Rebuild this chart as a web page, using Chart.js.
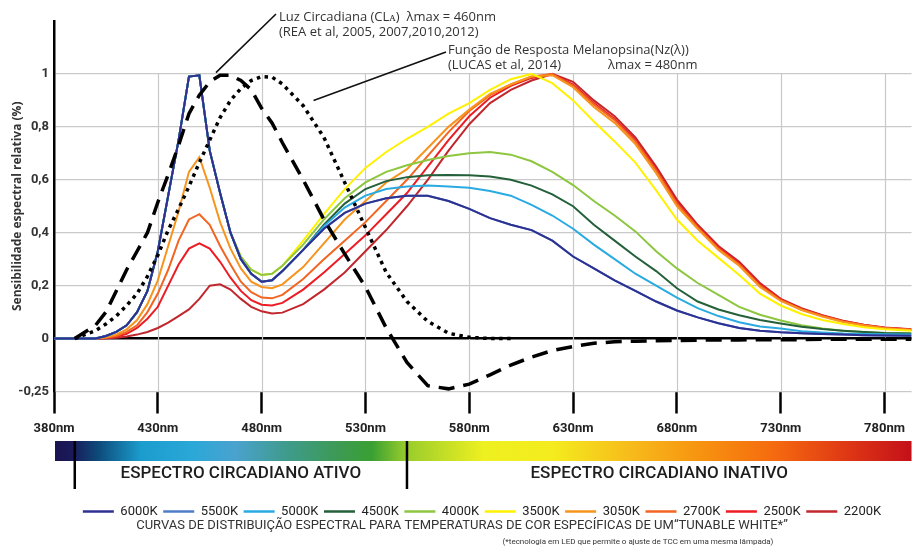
<!DOCTYPE html>
<html>
<head>
<meta charset="utf-8">
<script src="https://cdn.jsdelivr.net/npm/chart.js@4.4.0/dist/chart.umd.min.js"></script>
<style>
  html, body { margin: 0; padding: 0; background: #fff; }
  #wrap { width: 912px; height: 546px; }
</style>
</head>
<body>
<div id="wrap"><canvas id="grafico"></canvas></div>
<script>
// comprimentos de onda (nm)
const comprimentos = [380,390,400,405,410,415,420,425,430,435,440,445,450,455,460,465,470,475,480,485,490,
  500,510,520,530,540,550,560,570,580,590,600,610,620,630,640,650,660,670,680,690,700,710,720,730,740,750,760,770,780,793];

const k6000 = [0,0,0,0.01,0.025,0.05,0.10,0.18,0.33,0.54,0.75,0.99,0.995,0.71,0.55,0.40,0.30,0.245,0.215,0.22,0.255,
  0.335,0.415,0.475,0.51,0.53,0.54,0.54,0.52,0.49,0.455,0.43,0.41,0.37,0.31,0.265,0.22,0.18,0.14,0.106,0.08,0.058,0.04,0.03,0.024,0.02,0.017,0.015,0.013,0.012,0.011];
const k5500 = [0,0,0,0.01,0.025,0.05,0.10,0.18,0.33,0.54,0.75,0.99,0.995,0.71,0.55,0.40,0.30,0.245,0.215,0.22,0.255,
  0.335,0.415,0.475,0.51,0.53,0.54,0.54,0.52,0.49,0.455,0.43,0.41,0.37,0.31,0.265,0.22,0.18,0.14,0.106,0.08,0.058,0.04,0.03,0.024,0.02,0.017,0.015,0.013,0.012,0.011];
const k5000 = [0,0,0,0.01,0.025,0.05,0.10,0.18,0.33,0.54,0.75,0.99,0.995,0.71,0.55,0.40,0.30,0.245,0.215,0.22,0.255,
  0.335,0.425,0.495,0.54,0.565,0.575,0.578,0.575,0.57,0.558,0.54,0.505,0.465,0.415,0.355,0.30,0.245,0.20,0.155,0.115,0.085,0.062,0.046,0.038,0.028,0.023,0.019,0.017,0.016,0.015];
const k4500 = [0,0,0,0.01,0.025,0.05,0.10,0.18,0.33,0.54,0.75,0.99,0.995,0.71,0.55,0.40,0.30,0.245,0.215,0.22,0.255,
  0.335,0.43,0.51,0.565,0.595,0.61,0.617,0.618,0.617,0.612,0.60,0.578,0.545,0.50,0.43,0.37,0.31,0.255,0.19,0.14,0.11,0.088,0.07,0.057,0.045,0.036,0.03,0.025,0.021,0.019];
const k4000 = [0,0,0,0.01,0.025,0.05,0.10,0.18,0.33,0.54,0.75,0.99,0.995,0.71,0.55,0.40,0.31,0.26,0.24,0.245,0.275,
  0.355,0.45,0.53,0.59,0.63,0.655,0.675,0.69,0.70,0.705,0.695,0.67,0.63,0.58,0.52,0.465,0.405,0.33,0.265,0.21,0.165,0.12,0.09,0.068,0.05,0.038,0.03,0.025,0.021,0.019];
const k3500 = [0,0,0,0.01,0.025,0.05,0.10,0.18,0.33,0.54,0.75,0.99,0.995,0.71,0.55,0.40,0.31,0.26,0.24,0.245,0.275,
  0.37,0.47,0.565,0.645,0.705,0.755,0.80,0.85,0.89,0.94,0.98,1.0,0.965,0.90,0.82,0.745,0.665,0.56,0.45,0.37,0.305,0.24,0.17,0.125,0.093,0.07,0.055,0.043,0.035,0.03];
const k3050 = [0,0,0,0.005,0.015,0.035,0.07,0.13,0.22,0.35,0.48,0.63,0.685,0.57,0.44,0.34,0.265,0.215,0.195,0.19,0.205,
  0.27,0.36,0.45,0.52,0.59,0.64,0.72,0.80,0.865,0.925,0.96,0.99,0.995,0.95,0.875,0.815,0.735,0.625,0.50,0.415,0.335,0.275,0.195,0.142,0.108,0.083,0.063,0.049,0.039,0.032];
const k2700 = [0,0,0,0.003,0.01,0.025,0.05,0.10,0.17,0.26,0.37,0.45,0.47,0.43,0.35,0.28,0.215,0.175,0.155,0.152,0.165,
  0.225,0.30,0.37,0.44,0.52,0.60,0.69,0.78,0.86,0.92,0.96,0.99,1.0,0.955,0.885,0.825,0.745,0.635,0.51,0.42,0.34,0.28,0.20,0.145,0.11,0.085,0.065,0.05,0.04,0.033];
const k2500 = [0,0,0,0.002,0.007,0.018,0.04,0.075,0.12,0.20,0.28,0.34,0.36,0.34,0.29,0.23,0.18,0.145,0.128,0.125,0.135,
  0.185,0.25,0.32,0.39,0.47,0.55,0.65,0.75,0.84,0.91,0.955,0.985,1.0,0.96,0.89,0.83,0.75,0.64,0.515,0.425,0.345,0.285,0.205,0.148,0.112,0.087,0.066,0.051,0.041,0.034];
const k2200 = [0,0,0,0.001,0.003,0.008,0.015,0.025,0.04,0.06,0.085,0.11,0.15,0.20,0.205,0.185,0.15,0.12,0.103,0.095,0.098,
  0.13,0.185,0.25,0.33,0.41,0.50,0.60,0.71,0.81,0.89,0.94,0.975,1.0,0.97,0.90,0.84,0.76,0.65,0.525,0.43,0.35,0.29,0.21,0.15,0.115,0.088,0.067,0.052,0.042,0.035];

// Luz Circadiana (CLa) - tracejado
const luzCircadiana = [null,0,0.05,0.10,0.18,0.26,0.33,0.40,0.515,0.62,0.73,0.85,0.92,0.97,0.995,0.995,0.975,0.94,0.87,0.815,0.74,
  0.60,0.45,0.32,0.195,0.04,-0.09,-0.178,-0.19,-0.172,-0.137,-0.10,-0.07,-0.045,-0.03,-0.018,-0.012,-0.01,-0.008,-0.007,-0.006,-0.005,-0.005,-0.004,-0.004,-0.004,-0.003,-0.003,-0.003,-0.003,-0.003];
// Melanopsina Nz(λ) - pontilhado
const melanopsina = [null,0,0.03,0.055,0.085,0.125,0.17,0.235,0.315,0.41,0.49,0.575,0.665,0.75,0.835,0.90,0.945,0.975,0.99,0.988,0.962,
  0.88,0.76,0.59,0.42,0.25,0.14,0.065,0.02,0.005,0,0,null,null,null,null,null,null,null,null,null,null,null,null,null,null,null,null,null,null,null];

const nomes = ['6000K','5500K','5000K','4500K','4000K','3500K','3050K','2700K','2500K','2200K'];
const valores = [k6000,k5500,k5000,k4500,k4000,k3500,k3050,k2700,k2500,k2200];
const cores = ['#2e3192','#4f7cc8','#29abe2','#24603a','#8dc63f','#fff200','#f7941d','#f26522','#ed1c24','#c1272d'];

const marcasNm = [380,430,480,530,580,630,680,730,780];
const marcasY = [-0.2,0,0.2,0.4,0.6,0.8,1];
const rotulosY = ['-0,25','0','0,2','0,4','0,6','0,8','1'];

const pontos = (v) => v.map((y, i) => ({ x: comprimentos[i], y: y }));

const datasets = nomes.map((nome, i) => ({
  label: nome,
  data: pontos(valores[i]),
  borderColor: cores[i],
  backgroundColor: cores[i],
  borderWidth: 2,
  pointRadius: 0,
  tension: 0
}));
datasets.push({
  label: 'CLa', data: pontos(luzCircadiana), borderColor: '#000', borderWidth: 3.5,
  borderDash: [16, 9], pointRadius: 0, order: -1
});
datasets.push({
  label: 'Nz', data: pontos(melanopsina), borderColor: '#000', borderWidth: 3.5,
  borderDash: [3.5, 4.5], pointRadius: 0, order: -1
});

// linhas verticais da grade só até o valor 1
const gradeVertical = {
  id: 'gradeVertical',
  beforeDatasetsDraw(chart) {
    const { ctx, scales: { x, y }, chartArea } = chart;
    ctx.save();
    ctx.strokeStyle = '#c9c9c9';
    ctx.lineWidth = 1.2;
    marcasNm.slice(1).forEach(v => {
      const px = Math.round(x.getPixelForValue(v)) + 0.5;
      ctx.beginPath();
      ctx.moveTo(px, y.getPixelForValue(1));
      ctx.lineTo(px, chartArea.bottom);
      ctx.stroke();
    });
    ctx.restore();
  }
};

function textoAjustado(ctx, txt, cx, cy, largura) {
  const w = ctx.measureText(txt).width;
  ctx.save();
  ctx.translate(cx, cy);
  if (w > largura) ctx.scale(largura / w, 1);
  ctx.fillText(txt, 0, 0);
  ctx.restore();
}

const extras = {
  id: 'extras',
  afterDraw(chart) {
    const { ctx, scales: { x, y }, chartArea } = chart;
    ctx.save();

    // anotações
    ctx.fillStyle = '#333';
    ctx.font = '13px "Open Sans"';
    ctx.textBaseline = 'middle';
    ctx.textAlign = 'left';
    ctx.fillText('Luz Circadiana (CLᴀ)  λmax = 460nm', 279, 17);
    ctx.fillText('(REA et al, 2005, 2007,2010,2012)', 279, 32);
    ctx.fillText('Função de Resposta Melanopsina(Nz(λ))', 448, 50);
    ctx.fillText('(LUCAS et al, 2014)', 448, 65);
    ctx.fillText('λmax = 480nm', 608, 65);

    ctx.strokeStyle = '#111';
    ctx.lineWidth = 1.6;
    ctx.beginPath();
    ctx.moveTo(276, 14);
    ctx.lineTo(x.getPixelForValue(458), y.getPixelForValue(1.005));
    ctx.moveTo(446, 52);
    ctx.lineTo(x.getPixelForValue(505), y.getPixelForValue(0.9));
    ctx.stroke();

    // barra do espectro
    const x0 = chartArea.left + 1, x1 = chartArea.right;
    const g = ctx.createLinearGradient(x0, 0, x1, 0);
    [[0,'#1a1450'],[0.02,'#1a1a5a'],[0.05,'#0d4a7a'],[0.10,'#1a9ccc'],[0.16,'#2aa8d8'],[0.21,'#4aa2cf'],
     [0.27,'#3f9b8c'],[0.33,'#3d9a55'],[0.37,'#3aa032'],[0.41,'#98cc2c'],[0.50,'#eef020'],[0.58,'#f4ec1e'],
     [0.68,'#f7b71a'],[0.76,'#f7900f'],[0.84,'#f56a0f'],[0.92,'#e03a14'],[1,'#c4101a']]
      .forEach(([p, c]) => g.addColorStop(p, c));
    ctx.fillStyle = g;
    ctx.fillRect(x0, 441, x1 - x0, 20);

    const a = x.getPixelForValue(390), b = x.getPixelForValue(550);
    ctx.strokeStyle = '#000';
    ctx.lineWidth = 2.5;
    ctx.beginPath();
    ctx.moveTo(a, 441); ctx.lineTo(a, 489);
    ctx.moveTo(b, 441); ctx.lineTo(b, 489);
    ctx.stroke();

    ctx.fillStyle = '#1e1e1e';
    ctx.textAlign = 'center';
    ctx.font = '500 17px Roboto';
    textoAjustado(ctx, 'ESPECTRO CIRCADIANO ATIVO', (a + b) / 2, 474, 244);
    textoAjustado(ctx, 'ESPECTRO CIRCADIANO INATIVO', (b + x1) / 2, 474, 262);

    ctx.fillStyle = '#333';
    ctx.font = '13px Roboto';
    textoAjustado(ctx, 'CURVAS DE DISTRIBUIÇÃO ESPECTRAL PARA TEMPERATURAS DE COR ESPECÍFICAS DE UM“TUNABLE WHITE*”', 462, 526, 669);
    ctx.font = '8px Roboto';
    textoAjustado(ctx, '(*tecnologia em LED que permite o ajuste de TCC em uma mesma lâmpada)', 638, 542, 288);

    ctx.restore();
  },
  afterLayout(chart) {
    // legenda deslocada um pouco para a direita, como no original
    const lg = chart.legend;
    if (lg) { lg.left += 26; lg.right += 26; }
  }
};

new Chart(document.getElementById('grafico'), {
  type: 'line',
  data: { datasets: datasets },
  plugins: [gradeVertical, extras],
  options: {
    responsive: true,
    maintainAspectRatio: false,
    animation: false,
    layout: { padding: { top: 21, right: 0, bottom: 18, left: 0 } },
    plugins: {
      legend: {
        position: 'bottom',
        labels: {
          usePointStyle: true,
          pointStyle: 'line',
          pointStyleWidth: 31,
          padding: 5.5,
          color: '#222',
          font: { family: 'Roboto', size: 13 },
          generateLabels: (chart) => Chart.defaults.plugins.legend.labels.generateLabels(chart)
            .map(item => Object.assign(item, { lineWidth: 2.6 })),
          filter: (item) => item.datasetIndex < 10
        }
      },
      tooltip: { enabled: false }
    },
    scales: {
      x: {
        type: 'linear',
        min: 380,
        max: 793,
        afterBuildTicks: (s) => { s.ticks = marcasNm.map(v => ({ value: v })); },
        afterFit: (s) => { s.height = 108; },
        grid: { drawOnChartArea: false, drawTicks: true, tickLength: 22, tickColor: '#000', tickWidth: 2.5 },
        border: { display: false },
        ticks: {
          padding: 7, color: '#222', maxRotation: 0, autoSkip: false,
          font: { family: 'Roboto', weight: 'bold', size: 13 },
          callback: (v) => v + 'nm'
        }
      },
      y: {
        min: -0.2,
        max: 1.2,
        afterBuildTicks: (s) => { s.ticks = marcasY.map(v => ({ value: v })); },
        afterFit: (s) => { s.width = 54; },
        grid: {
          drawTicks: false,
          color: (c) => (c.tick && Math.abs(c.tick.value) < 1e-9) ? '#000' : '#c9c9c9',
          lineWidth: (c) => (c.tick && Math.abs(c.tick.value) < 1e-9) ? 2.5 : 1.2
        },
        border: { color: '#000', width: 2.5 },
        ticks: {
          padding: 5, color: '#333',
          font: { family: 'Roboto', weight: 'bold', size: 13 },
          callback: (v, i) => rotulosY[i]
        },
        title: {
          display: true,
          text: 'Sensibilidade espectral relativa (%)',
          color: '#333',
          font: { family: 'Open Sans', weight: 'bold', size: 12 },
          padding: { top: 10, bottom: 0 }
        }
      }
    }
  }
});
</script>
</body>
</html>
